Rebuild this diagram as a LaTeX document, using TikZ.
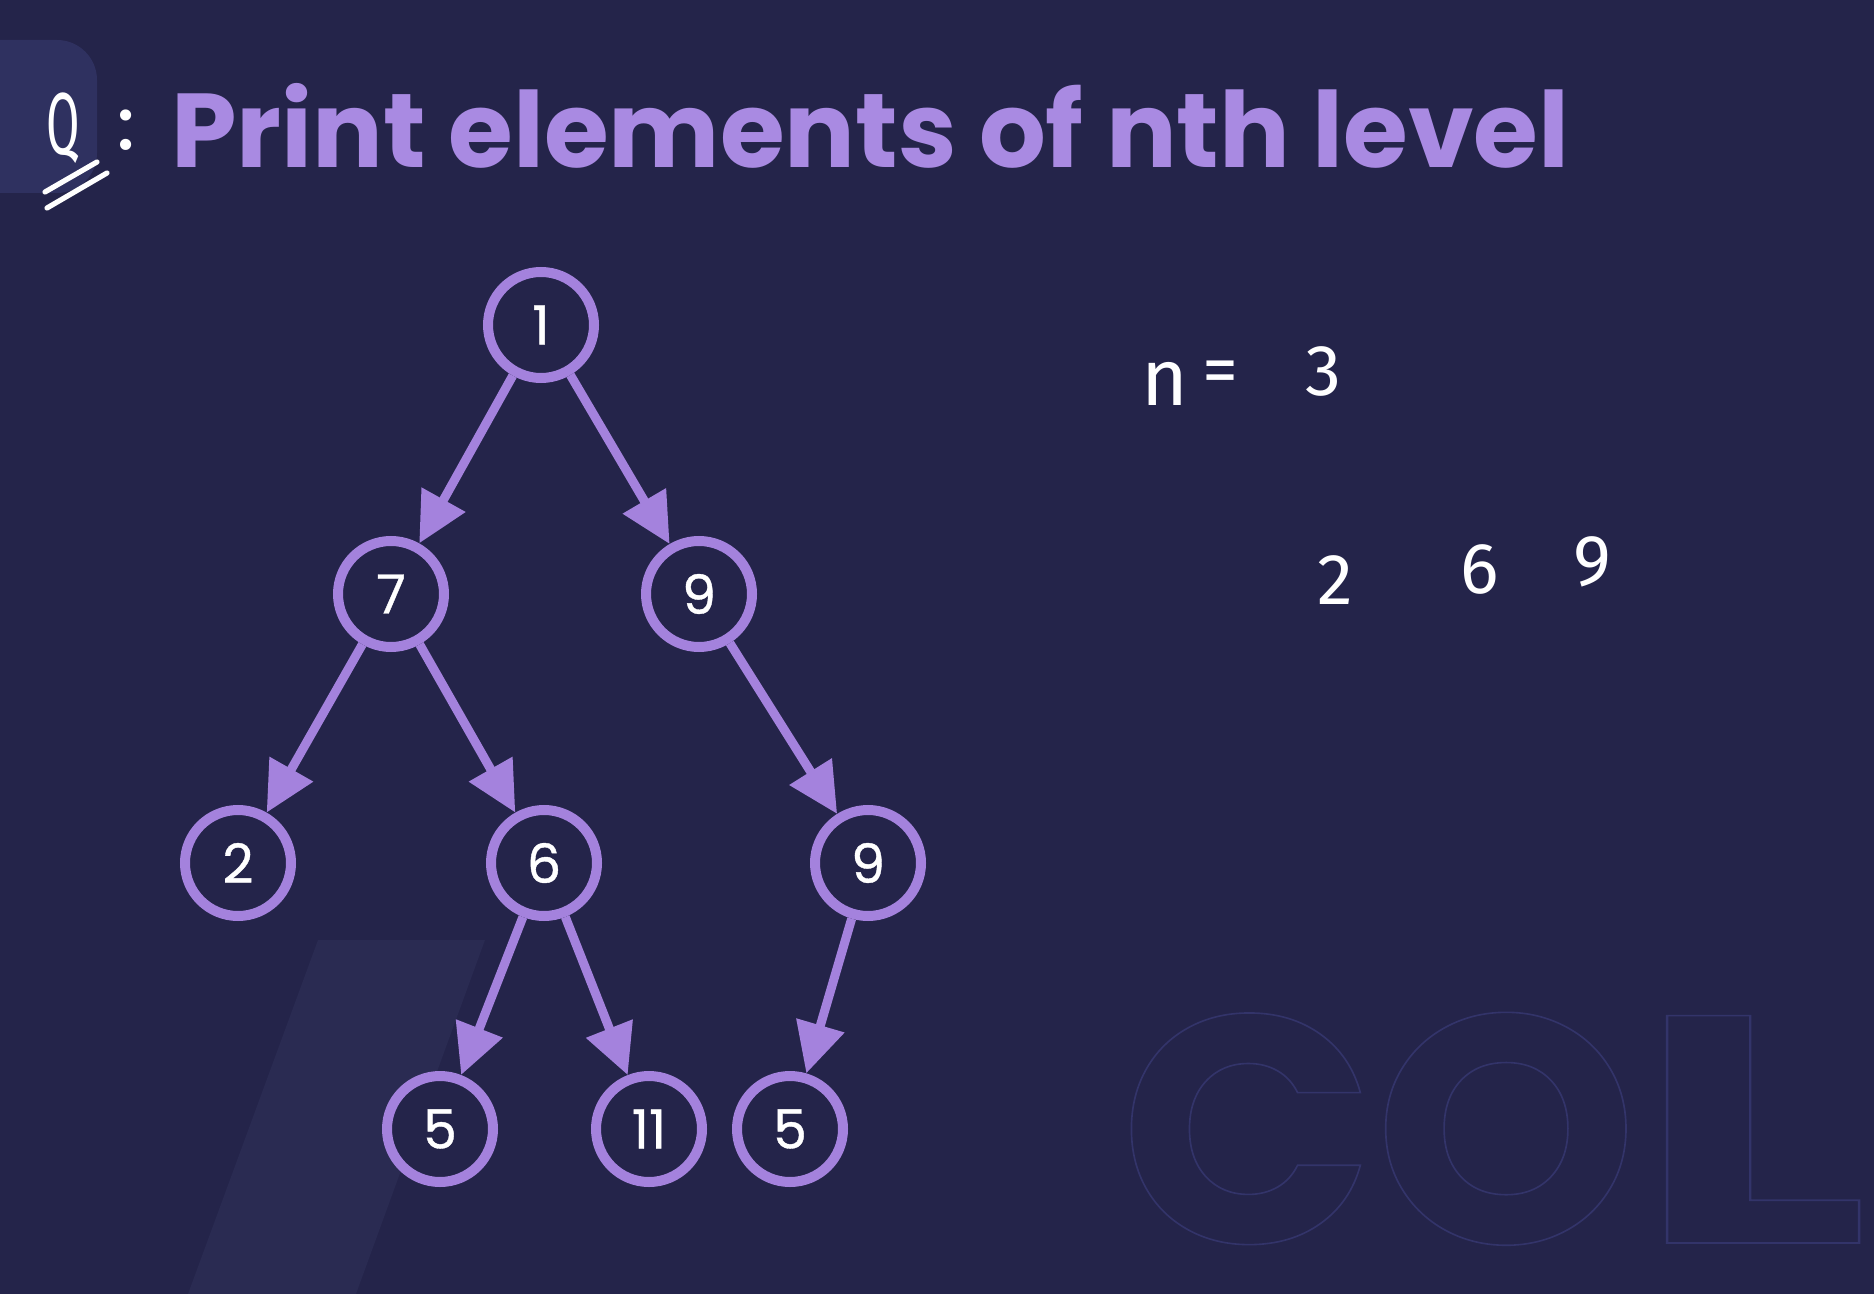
\documentclass[tikz,border=0pt]{standalone}
\usepackage{fontspec}
\usetikzlibrary{arrows.meta}
\setmainfont{Poppins}
\newfontfamily\digitfont{Poppins}[FakeBold=0.7]
\newfontfamily\handfont{Fira Sans}
\definecolor{bg}{HTML}{24244A}
\definecolor{lav}{HTML}{A482DD}
\definecolor{titlecol}{HTML}{A98AE2}
\definecolor{panel}{HTML}{2F3160}
\definecolor{band}{HTML}{2A2B52}
\definecolor{ghost}{HTML}{33346A}
\tikzset{
  treenode/.style={circle, draw=lav, line width=5pt, fill=bg,
    minimum size=53pt, inner sep=0pt, text=white,
    font=\digitfont\fontsize{27}{27}\selectfont},
  edge/.style={draw=lav, line width=4.5pt,
    -{Triangle[length=25pt,width=24pt]}},
  hand/.style={text=white, inner sep=0pt, font=\handfont\fontsize{36}{36}\selectfont},
  stroke/.style={white, line width=2.6pt, line cap=round}
}
\begin{document}
\begin{tikzpicture}[x=0.5pt,y=-0.5pt]
  % backdrop
  \fill[bg] (0,0) rectangle (1874,1294);
  \useasboundingbox (0,0) rectangle (1874,1294);
  \fill[panel] (-40,40) [rounded corners=20pt] -- (97,40) -- (97,193) [sharp corners] -- (-40,193) -- cycle;
  \fill[band] (318,940) -- (485,940) -- (356,1294) -- (188,1294) -- cycle;
  % outlined watermark lettering
  \node[anchor=base west, inner sep=0pt, text=ghost,
        font=\fontsize{162}{162}\selectfont\bfseries] (wm) at (1120,1243)
    {\special{pdf:code 1 Tr 0.8 w}\scalebox{1.03}[1]{CO}\scalebox{1.5}[1]{L}\special{pdf:code 0 Tr}};

  % heading
  \node[anchor=base west, inner sep=0pt, text=titlecol] (title) at (171,168)
    {\resizebox{699pt}{!}{\bfseries Print elements of nth level}};
  \node[hand, font=\handfont\fontsize{44}{44}\selectfont] (q) at (63,128)
    {\scalebox{0.55}[1]{Q}};
  \node[hand, font=\handfont\fontsize{40}{40}\selectfont] (colon) at (126,130) {:};
  \coordinate (u1a) at (45,192);  \coordinate (u1b) at (97,162);
  \coordinate (u2a) at (47,208);  \coordinate (u2b) at (107,173);
  \draw[stroke] (u1a) -- (u1b);
  \draw[stroke] (u2a) -- (u2b);

  % tree
  \node[treenode] (r)   at (541,325)  {1};
  \node[treenode] (a)   at (391,594)  {7};
  \node[treenode] (b)   at (699,594)  {9};
  \node[treenode] (c)   at (238,863)  {2};
  \node[treenode] (d)   at (544,863)  {6};
  \node[treenode] (e)   at (868,863)  {9};
  \node[treenode] (f)   at (440,1129) {5};
  \node[treenode] (g)   at (649,1129) {11};
  \node[treenode] (h)   at (790,1129) {5};
  \draw[edge] (r) -- (a);
  \draw[edge] (r) -- (b);
  \draw[edge] (a) -- (c);
  \draw[edge] (a) -- (d);
  \draw[edge] (b) -- (e);
  \draw[edge] (d) -- (f);
  \draw[edge] (d) -- (g);
  \draw[edge] (e) -- (h);

  % worked example
  \node[hand, font=\handfont\fontsize{40}{40}\selectfont] (nn) at (1165,384) {n};
  \node[hand] (eq) at (1220,378) {=};
  \node[hand] (three) at (1323,371) {3};
  \node[hand] (o2) at (1335,580) {2};
  \node[hand] (o6) at (1480,569) {6};
  \node[hand] (o9) at (1592,562) {9};
\end{tikzpicture}
\end{document}
